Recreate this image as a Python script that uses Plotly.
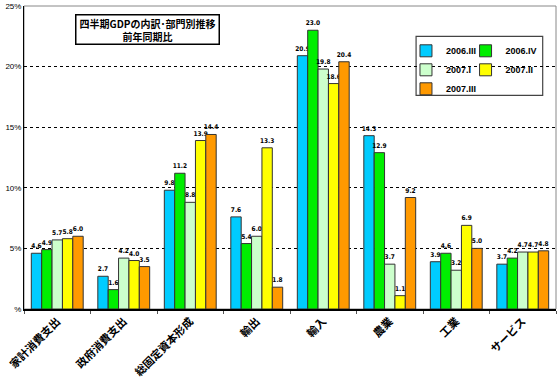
import plotly.graph_objects as go

categories = ["家計消費支出", "政府消費支出", "総固定資本形成", "輸出", "輸入", "農業", "工業", "サービス"]
s_2006_III = [4.6, 2.7, 9.8, 7.6, 20.9, 14.3, 3.9, 3.7]
s_2006_IV = [4.9, 1.6, 11.2, 5.4, 23.0, 12.9, 4.6, 4.2]
s_2007_I = [5.7, 4.2, 8.8, 6.0, 19.8, 3.7, 3.2, 4.7]
s_2007_II = [5.8, 4.0, 13.9, 13.3, 18.6, 1.1, 6.9, 4.7]
s_2007_III = [6.0, 3.5, 14.4, 1.8, 20.4, 9.2, 5.0, 4.8]
series_names = ["2006.III", "2006.IV", "2007.I", "2007.II", "2007.III"]
tick_vals = [0, 5, 10, 15, 20, 25]
tick_text = ["%", "5%", "10%", "15%", "20%", "25%"]

colors = ["#00CCFF", "#00EE00", "#CCFFCC", "#FFFF00", "#FF9900"]
legends = ["legend", "legend2", "legend", "legend2", "legend"]
FONT = "Noto Sans CJK JP"
NARROW = "Liberation Sans Narrow, DejaVu Sans Condensed, Liberation Sans"

fig = go.Figure()
for name, vals, col, lg in zip(series_names,
                               [s_2006_III, s_2006_IV, s_2007_I, s_2007_II, s_2007_III],
                               colors, legends):
    fig.add_trace(go.Bar(
        x=categories, y=vals, name=name, legend=lg,
        marker=dict(color=col, line=dict(color="#333333", width=1)),
        text=[f"{v:.1f}" for v in vals], textposition="outside",
        textfont=dict(size=6.5, color="black", family=NARROW, weight="bold"),
        constraintext="none", cliponaxis=False,
    ))

fig.update_layout(
    width=560, height=378,
    margin=dict(l=24, r=4, t=6, b=69),
    paper_bgcolor="white", plot_bgcolor="white",
    barmode="group", bargap=0.22, bargroupgap=0,
    font=dict(family=FONT, color="black"),
    legend=dict(x=0.718, y=0.9, xanchor="left", yanchor="top",
                bgcolor="rgba(0,0,0,0)", font=dict(size=9, family="Liberation Sans", weight="bold"),
                itemwidth=30, tracegroupgap=0, traceorder="normal"),
    legend2=dict(x=0.83, y=0.9, xanchor="left", yanchor="top",
                 bgcolor="rgba(0,0,0,0)", font=dict(size=9, family="Liberation Sans", weight="bold"),
                 itemwidth=30, tracegroupgap=0, traceorder="normal"),
    showlegend=True,
)
fig.update_yaxes(range=[0, 25], tickvals=tick_vals, ticktext=tick_text,
                 showgrid=True, gridcolor="black", griddash="dot", gridwidth=1,
                 showline=True, linecolor="black", linewidth=1,
                 ticks="", tickfont=dict(size=8, family="Liberation Sans"),
                 zeroline=False, automargin=False)
fig.update_xaxes(tickangle=-45, showline=True, linecolor="black", linewidth=1.5,
                 ticks="outside", tickson="boundaries", ticklen=3, tickcolor="#555555",
                 tickfont=dict(size=11, family=FONT, weight="bold"), automargin=False)

# plot frame (top/right)
fig.add_shape(type="rect", xref="paper", yref="paper", x0=0, x1=1, y0=0, y1=1,
              line=dict(color="#888888", width=1), layer="below")
# legend box
fig.add_shape(type="rect", xref="paper", yref="paper", x0=0.737, x1=0.975, y0=0.705, y1=0.9,
              line=dict(color="#444444", width=1.2), fillcolor="white", layer="below")

fig.add_annotation(text="四半期GDPの内訳･部門別推移<br>前年同期比", xref="paper", yref="paper",
                   x=0.233, y=0.921, xanchor="center", yanchor="middle", showarrow=False,
                   width=140, height=26,
                   font=dict(size=10, family=FONT, weight="bold"),
                   bgcolor="white", bordercolor="black", borderwidth=1.5, borderpad=1)

fig.write_html("out.html", config={"displayModeBar": False},
               post_script="document.body.style.margin='0';document.body.style.overflow='hidden';")
